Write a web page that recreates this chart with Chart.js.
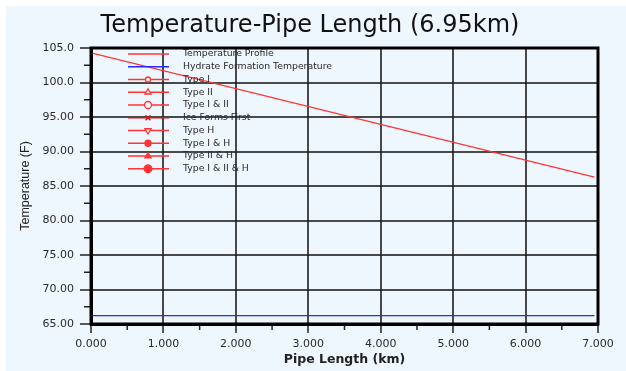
<!DOCTYPE html>
<html>
<head>
<meta charset="utf-8">
<script src="https://cdn.jsdelivr.net/npm/chart.js@4/dist/chart.umd.min.js"></script>
<style>
  html, body { margin: 0; padding: 0; background: #fff; }
  #wrap { width: 626px; height: 371px; }
</style>
</head>
<body>
<div id="wrap"><canvas id="chart" width="626" height="371"></canvas></div>
<script>
// ── data ────────────────────────────────────────────────────────────────────
const pipeLength   = [0, 6.95];          // km
const tempProfile  = [104.3, 86.3];      // F
const hydrateTemp  = [66.2, 66.2];       // F
const xTickLabels  = ['0.000', '1.000', '2.000', '3.000', '4.000', '5.000', '6.000', '7.000'];
const yTickLabels  = ['65.00', '70.00', '75.00', '80.00', '85.00', '90.00', '95.00', '100.0', '105.0'];
const xMinorTicks  = [0.5, 1.5, 2.5, 3.5, 4.5, 5.5, 6.5];
const yMinorTicks  = [67.5, 72.5, 77.5, 82.5, 87.5, 92.5, 97.5, 102.5];

// hydrate type series: legend only, no points on this run
const typeLabels  = ['Type I', 'Type II', 'Type I & II', 'Ice Forms First', 'Type H',
                     'Type I & H', 'Type II & H', 'Type I & II & H'];
const typeMarkers = ['circle', 'triangle', 'circle', 'crossRot', 'triangle',
                     'circle', 'triangle', 'circle'];
const typeFilled  = [false, false, false, false, false, true, true, true];
const typeSizes   = [2.5, 3.5, 3.5, 3.5, 3.5, 3, 3.5, 3.8];
const typeRotate  = [0, 0, 0, 0, 180, 0, 0, 0];

const RED  = '#ff3535';
const BLUE = '#2a2aff';
const BG   = '#eef6fe';
const WIDE = '"DejaVu Sans", Verdana, sans-serif';

const toPts = (xs, ys) => xs.map((x, i) => ({ x, y: ys[i] }));

const datasets = [
  { label: 'Temperature Profile', data: toPts(pipeLength, tempProfile),
    borderColor: RED, borderWidth: 1.3, showLine: true, pointRadius: 0, _marker: null },
  { label: 'Hydrate Formation Temperature', data: toPts(pipeLength, hydrateTemp),
    borderColor: BLUE, borderWidth: 1.3, showLine: true, pointRadius: 0, _marker: null },
  ...typeLabels.map((label, i) => ({
    label, data: [],
    borderColor: i === 3 ? '#e01010' : RED,
    backgroundColor: typeFilled[i] ? RED : BG,
    _marker: typeMarkers[i], _size: typeSizes[i], _rot: typeRotate[i],
  })),
];

// white frame + light blue panel
const panelBg = {
  id: 'panelBg',
  beforeDraw(chart) {
    const { ctx, width, height } = chart;
    ctx.save();
    ctx.fillStyle = '#fff';
    ctx.fillRect(0, 0, width, height);
    ctx.fillStyle = BG;
    ctx.fillRect(6, 6, width - 6, height - 6);
    ctx.restore();
  },
};

// minor ticks + heavy frame round the plot
const frame = {
  id: 'frame',
  afterDraw(chart) {
    const { ctx, chartArea: a, scales: { x, y } } = chart;
    ctx.save();
    ctx.strokeStyle = '#222';
    ctx.lineWidth = 1.5;
    ctx.beginPath();
    xMinorTicks.forEach(v => {
      const px = x.getPixelForValue(v);
      ctx.moveTo(px, a.bottom); ctx.lineTo(px, a.bottom + 6);
    });
    yMinorTicks.forEach(v => {
      const py = y.getPixelForValue(v);
      ctx.moveTo(a.left - 7, py); ctx.lineTo(a.left, py);
    });
    ctx.stroke();
    ctx.strokeStyle = '#000';
    ctx.lineWidth = 3;
    ctx.strokeRect(a.left, a.top, a.right - a.left, a.bottom - a.top);
    ctx.restore();
  },
};

// legend inside the plot: line sample with marker, then label
const innerLegend = {
  id: 'innerLegend',
  afterDatasetsDraw(chart) {
    const { ctx } = chart;
    ctx.save();
    ctx.font = '9.3px ' + WIDE;
    ctx.textBaseline = 'middle';
    chart.data.datasets.forEach((ds, i) => {
      const y = 54 + i * 12.75;
      ctx.strokeStyle = ds.borderColor;
      ctx.lineWidth = 1.3;
      ctx.beginPath();
      ctx.moveTo(128, y); ctx.lineTo(169, y);
      ctx.stroke();
      if (ds._marker) {
        ctx.fillStyle = ds.backgroundColor;
        Chart.helpers.drawPoint(ctx, {
          pointStyle: ds._marker, radius: ds._size, rotation: ds._rot, borderWidth: 1.2,
        }, 148, y);
      }
      ctx.fillStyle = '#2a2a2a';
      ctx.fillText(ds.label, 183, y);
    });
    ctx.restore();
  },
};

const tickFont = { family: WIDE, size: 11 };
const gridOpts = { color: 'rgba(30,30,30,0.8)', lineWidth: 2, tickColor: '#222', tickWidth: 1.5 };

new Chart(document.getElementById('chart'), {
  type: 'scatter',
  data: { datasets },
  plugins: [panelBg, frame, innerLegend],
  options: {
    responsive: false,
    animation: false,
    layout: { padding: { left: 22, top: 0, right: 28, bottom: 0 } },
    plugins: {
      legend: { display: false },
      tooltip: { enabled: false },
      title: {
        display: true,
        text: 'Temperature-Pipe Length (6.95km)',
        color: '#111',
        font: { family: WIDE, size: 24, weight: 'normal', lineHeight: 1.2 },
        padding: { top: 11, bottom: 8.2 },
      },
    },
    scales: {
      x: {
        type: 'linear', min: 0, max: 7,
        afterFit: s => { s.height = 47; },
        afterBuildTicks: s => { s.ticks = xTickLabels.map(Number).map(value => ({ value })); },
        ticks: { color: '#2a2a2a', font: tickFont, padding: 5, maxRotation: 0,
                 callback: (v, i) => xTickLabels[i] },
        grid: { ...gridOpts, tickLength: 9 },
        border: { color: '#000', width: 3 },
        title: { display: true, text: 'Pipe Length (km)', color: '#222',
                 font: { family: WIDE, size: 12.5, weight: 'bold' },
                 padding: { top: 0, bottom: 4 } },
      },
      y: {
        min: 65, max: 105,
        afterFit: s => { s.width = 69; },
        afterBuildTicks: s => { s.ticks = yTickLabels.map(Number).map(value => ({ value })); },
        ticks: { color: '#2a2a2a', font: tickFont, padding: 6,
                 callback: (v, i) => yTickLabels[i] },
        grid: { ...gridOpts, tickLength: 11 },
        border: { color: '#000', width: 3 },
        title: { display: true, text: 'Temperature (F)', color: '#222',
                 font: { family: '"Liberation Sans Narrow", "Liberation Sans", sans-serif', size: 12.5 },
                 padding: { top: -4, bottom: 0 } },
      },
    },
  },
});
</script>
</body>
</html>
